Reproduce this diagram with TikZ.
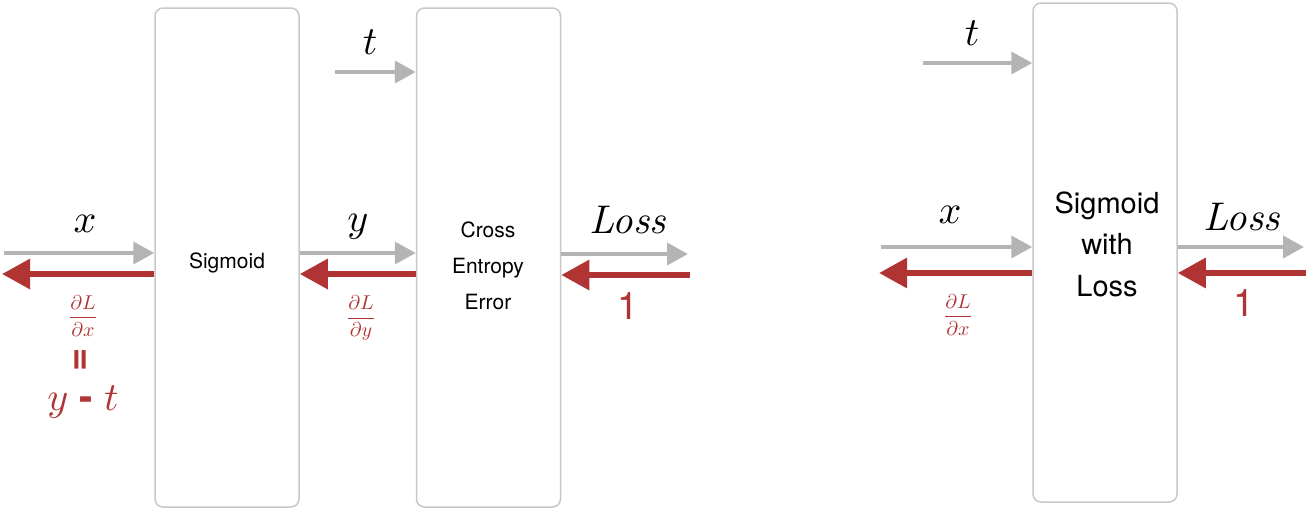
\documentclass[tikz,border=0pt]{standalone}
\usepackage{amsmath}
\usepackage{fontspec}
\setsansfont{TeX Gyre Heros}
\usetikzlibrary{arrows.meta}
\definecolor{fgray}{HTML}{B4B4B4}
\definecolor{bred}{HTML}{B03434}
\definecolor{bgray}{HTML}{C8C8C8}
\tikzset{
  blk/.style={draw=bgray, line width=1.5pt, rounded corners=8pt, fill=white,
    minimum width=144pt, minimum height=499pt, inner sep=0pt},
  fwd/.style={draw=fgray, line width=4pt, -{Triangle[length=21pt,width=22pt]}},
  bwd/.style={draw=bred, line width=6pt, -{Triangle[length=28pt,width=29pt]}},
  mlab/.style={inner sep=0pt, scale=4, font=\fontsize{10}{12}\selectfont},
  glab/.style={inner sep=0pt, text=bred, scale=2, font=\fontsize{10}{12}\selectfont},
  onelab/.style={inner sep=0pt, text=bred, font=\sffamily\fontsize{38}{44}\selectfont},
  smalltxt/.style={inner sep=0pt, align=center, font=\sffamily\fontsize{21}{36}\selectfont},
  bigtxt/.style={inner sep=0pt, align=center, font=\sffamily\fontsize{29}{41.5}\selectfont},
}
\begin{document}
\begin{tikzpicture}[x=1pt,y=-1pt]
\useasboundingbox (0,0) rectangle (1310,514);
% boxes
\node[blk] (sig) at (227,257.5) {};
\node[blk] (cee) at (488.5,257.5) {};
\node[blk] (swl) at (1105,252.5) {};
\node[smalltxt] (sigt) at (227,263) {Sigmoid};
\node[smalltxt] (ceet) at (488,266) {Cross\\Entropy\\Error};
\node[bigtxt] (swlt) at (1107,244) {Sigmoid\\with\\Loss};
% free ends
\coordinate (xin) at (4,253);
\coordinate (xout) at (2,274);
\coordinate (tin) at (335,72);
\coordinate (lossout) at (688,254);
\coordinate (onein) at (690,275);
\coordinate (tin2) at (923,63);
\coordinate (xin2) at (881,247);
\coordinate (xout2) at (879,273);
\coordinate (lossout2) at (1304,247);
\coordinate (onein2) at (1306,273);
% left diagram arrows
\draw[fwd] (xin) -- (xin -| sig.west);
\draw[bwd] (xout -| sig.west) -- (xout);
\draw[fwd] (sig.east |- xin) -- (cee.west |- xin);
\draw[bwd] (cee.west |- xout) -- (sig.east |- xout);
\draw[fwd] (tin) -- (tin -| cee.west);
\draw[fwd] (cee.east |- lossout) -- (lossout);
\draw[bwd] (onein) -- (onein -| cee.east);
% right diagram arrows
\draw[fwd] (tin2) -- (tin2 -| swl.west);
\draw[fwd] (xin2) -- (xin2 -| swl.west);
\draw[bwd] (xout2 -| swl.west) -- (xout2);
\draw[fwd] (swl.east |- lossout2) -- (lossout2);
\draw[bwd] (onein2) -- (onein2 -| swl.east);
% labels left
\node[mlab] (lx) at (85,224) {$x$};
\node[glab] (gx) at (83,316) {$\dfrac{\partial L}{\partial x}$};
\node[inner sep=0pt, text=bred, rotate=90, font=\sffamily\bfseries\fontsize{40}{40}\selectfont] (eq) at (83,360) {=};
\node[mlab, text=bred] (ymt) at (83,402) {$y$\;\textsf{\bfseries -}\;$t$};
\node[mlab] (ly) at (358,227) {$y$};
\node[glab] (gy) at (361,318) {$\dfrac{\partial L}{\partial y}$};
\node[mlab] (lt) at (370,42) {$t$};
\node[mlab] (lloss) at (628,220) {\textit{Loss}};
\node[onelab] (l1) at (628,306) {1};
% labels right
\node[mlab] (lt2) at (972,33) {$t$};
\node[mlab] (lx2) at (950,215) {$x$};
\node[glab] (gx2) at (958,315) {$\dfrac{\partial L}{\partial x}$};
\node[mlab] (lloss2) at (1242,217) {\textit{Loss}};
\node[onelab] (l12) at (1244,303) {1};
\end{tikzpicture}
\end{document}
